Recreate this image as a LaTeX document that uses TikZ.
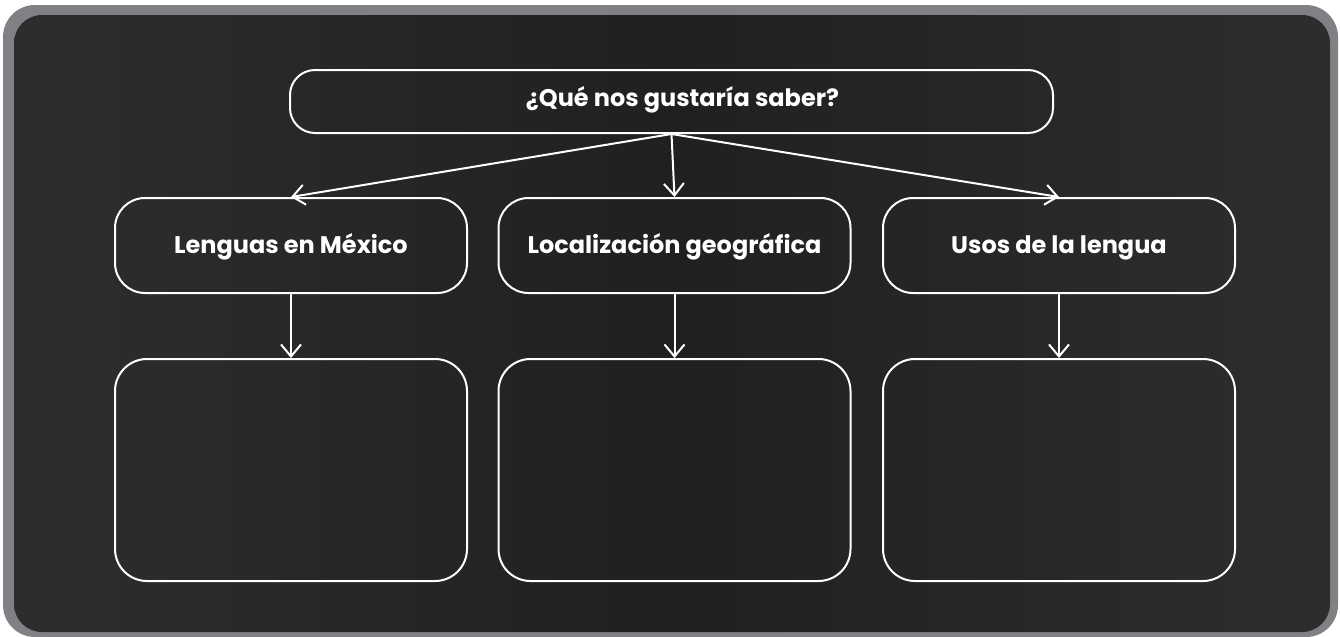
\documentclass[tikz,border=0pt]{standalone}
\usepackage{fontspec}
\setmainfont{Poppins}
\usetikzlibrary{positioning}
\usetikzlibrary{arrows.meta}

\definecolor{framegray}{HTML}{808184}
\definecolor{bgside}{HTML}{3B3B3B}
\definecolor{bgmid}{HTML}{221F20}
\pgfdeclarehorizontalshading{panelshade}{100bp}{
  color(0bp)=(bgside); color(50bp)=(bgmid); color(100bp)=(bgside)}

\begin{document}
\begin{tikzpicture}[x=0.5pt, y=-0.5pt,
  box/.style={draw=white, line width=1pt, text=white, inner sep=0pt,
    text height=8.4pt, text depth=0pt, font=\bfseries\fontsize{12}{14}\selectfont},
  topbox/.style={box, text depth=3pt, rounded corners=12.5pt, minimum width=381.5pt, minimum height=31.5pt},
  midbox/.style={box, rounded corners=15pt, minimum width=176pt, minimum height=47.5pt},
  lowbox/.style={box, rounded corners=16pt, minimum width=176pt, minimum height=111pt},
  arr/.style={draw=white, line width=1pt, -{Straight Barb[length=6pt, width=10pt]}}]
\useasboundingbox (0,0) rectangle (1340,637);

% frame and shaded panel
\fill[framegray, rounded corners=16pt] (3,5) rectangle (1338,637);
\shade[shading=panelshade, rounded corners=14pt] (14,15) rectangle (1330,632);

\node[topbox] (q) at (671.5,101.5) {\hspace*{11pt}¿Qué nos gustaría saber?};

\node[midbox] (lenguas) at (291,245.5) {Lenguas en México};
\node[midbox] (local) at (674.5,245.5) {Localización geográfica};
\node[midbox] (usos) at (1059,245.5) {Usos de la lengua};

\node[lowbox, below=32pt of lenguas] (lenguasb) {};
\node[lowbox, below=32pt of local] (localb) {};
\node[lowbox, below=32pt of usos] (usosb) {};

\draw[arr] (q.south) -- (lenguas.north);
\draw[arr] (q.south) -- (local.north);
\draw[arr] (q.south) -- (usos.north);

\draw[arr] (lenguas) -- (lenguasb);
\draw[arr] (local) -- (localb);
\draw[arr] (usos) -- (usosb);
\end{tikzpicture}
\end{document}
